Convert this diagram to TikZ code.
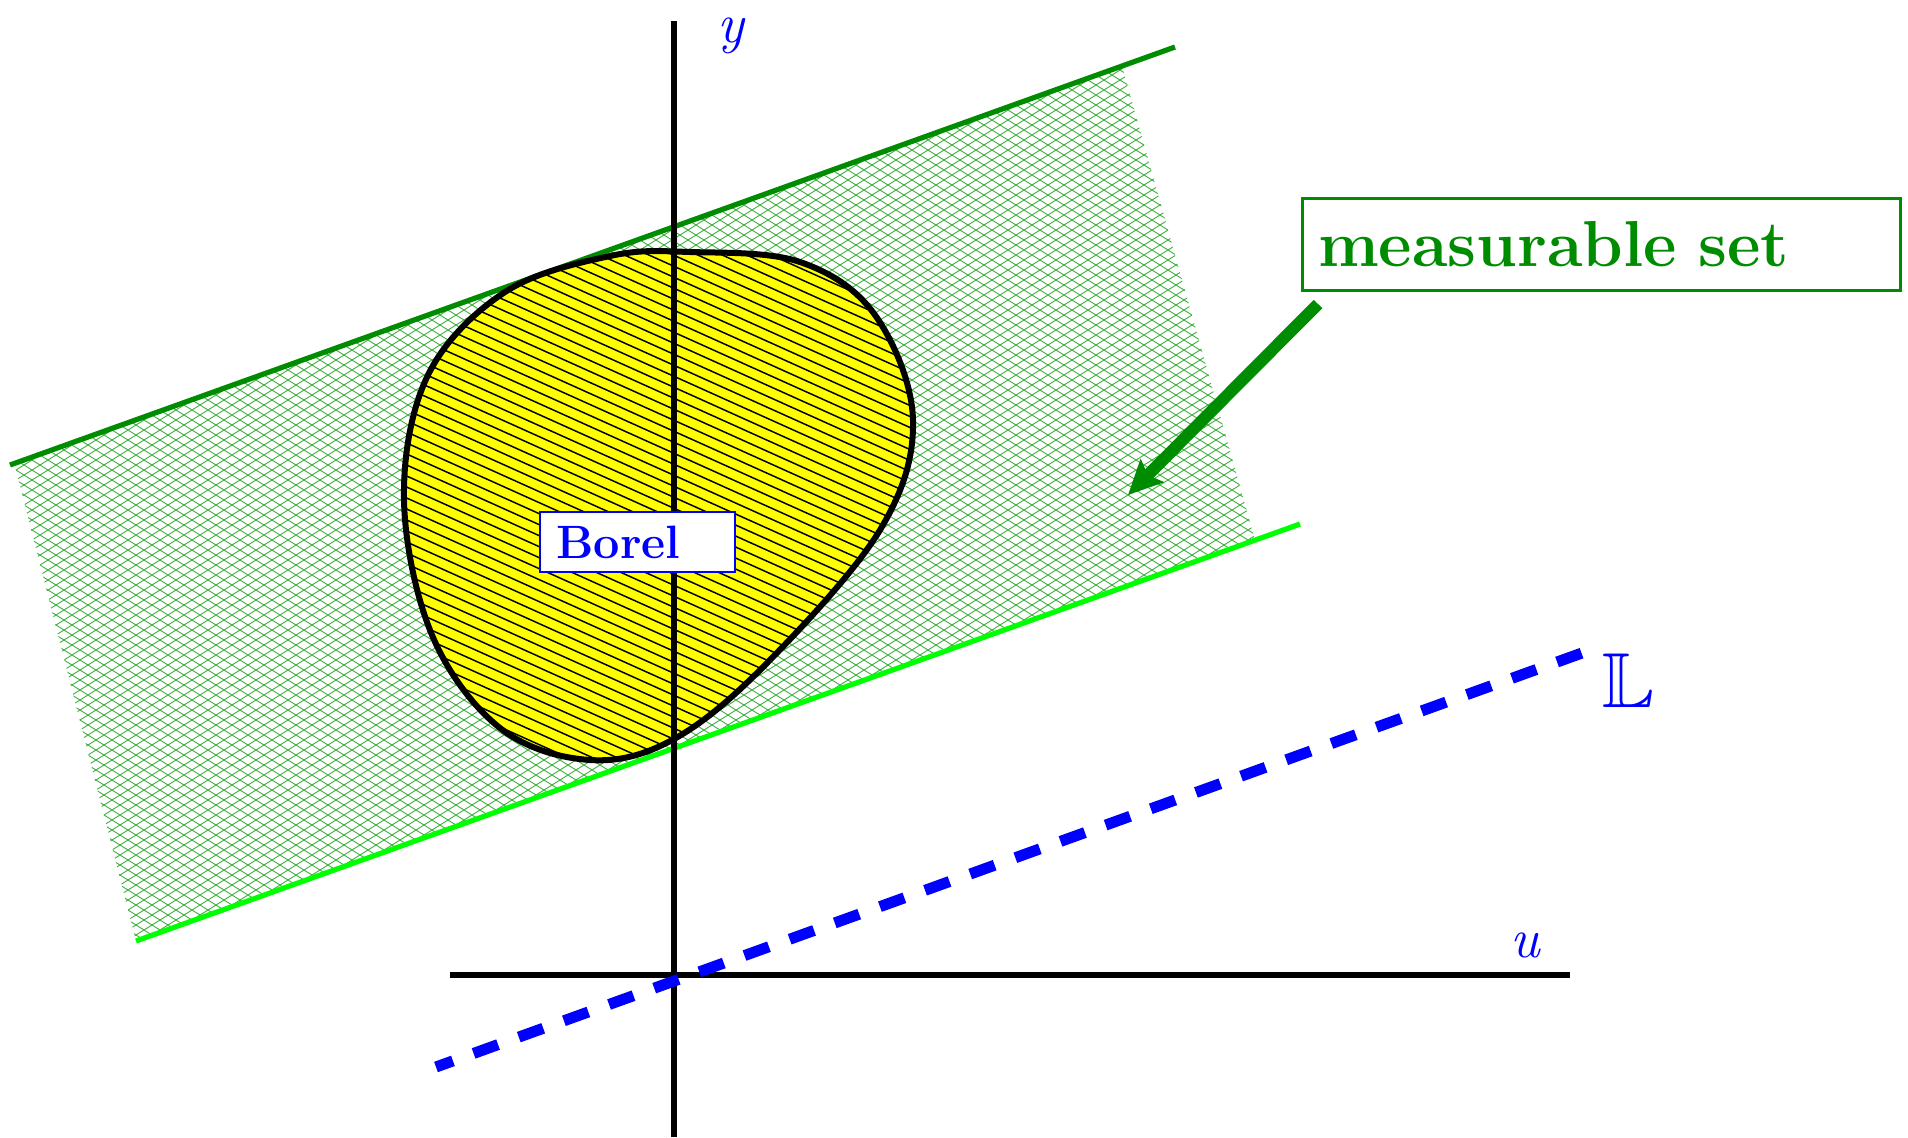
\documentclass[tikz,border=0pt]{standalone}
\usepackage{amssymb}
\usetikzlibrary{arrows.meta}
\definecolor{darkgreen}{RGB}{0,140,0}
\definecolor{lightgreen}{RGB}{0,255,0}
\definecolor{hatchgreen}{RGB}{60,175,60}
\definecolor{blobyellow}{RGB}{255,255,0}
\tikzset{
  axisline/.style={line width=3pt, black},
  hatchline/.style={line width=0.45pt, hatchgreen},
  blobline/.style={line width=0.75pt, black},
  axlabel/.style={text=blue, inner sep=0pt},
  labelbox/.style={draw, fill=white, align=left, inner ysep=0pt, font=\bfseries}
}
\begin{document}
\begin{tikzpicture}[x=0.5pt, y=-0.5pt]
\useasboundingbox (0,0) rectangle (1908,1137);
\begin{scope}
\clip (15,466) -- (1122,66) -- (1255,540) -- (136,941) -- cycle;
\foreach \c in {-800,-790,...,1000} \draw[hatchline] (0,\c) -- (1400,\c+875);
\foreach \c in {40,50,...,1840} \draw[hatchline] (0,\c) -- (1400,\c-875);
\end{scope}
\coordinate (topleft) at (10,465);
\coordinate (topright) at (1175,47);
\coordinate (botleft) at (136,941);
\coordinate (botright) at (1300,524);
\draw[line width=2.6pt, darkgreen] (topleft) -- (topright);
\draw[line width=2.6pt, lightgreen] (botleft) -- (botright);
\def\blobpath{plot[smooth cycle, tension=0.6] coordinates {(690,252) (800,262) (875,315) (913,420) (880,530) (767,663) (674,739) (590,760) (500,728) (432,635) (404,499) (428,375) (505,292) (610,256)}}
\fill[blobyellow] \blobpath;
\begin{scope}
\clip \blobpath;
\foreach \c in {-180,-169,...,600} \draw[blobline] (380,\c+171) -- (940,\c+423);
\end{scope}
\draw[line width=3pt, black] \blobpath;
\coordinate (ytop) at (674,21);
\coordinate (ybot) at (674,1137);
\coordinate (uleft) at (450,975);
\coordinate (uright) at (1570,975);
\draw[axisline] (ybot) -- (ytop);
\draw[axisline] (uleft) -- (uright);
\coordinate (lstart) at (436,1067);
\coordinate (lend) at (1582,653);
\draw[line width=5.5pt, blue, dash pattern=on 13pt off 11pt, dash phase=4pt] (lstart) -- (lend);
\node[axlabel, font=\itshape\fontsize{28}{30}\selectfont] (ylab) at (731,36) {y};
\node[axlabel, font=\itshape\fontsize{28}{30}\selectfont] (ulab) at (1525,945) {u};
\node[axlabel, font=\fontsize{39}{42}\selectfont] (llab) at (1628,681) {$\mathbb{L}$};
\node[labelbox, draw=blue, text=blue, line width=1pt, text width=80.5pt, inner xsep=8.5pt, minimum height=30pt,
  font=\bfseries\fontsize{23.4}{26}\selectfont] (borel) at (637,542) {Borel};
\node[labelbox, draw=darkgreen, text=darkgreen, line width=1.5pt, text width=283pt, inner xsep=8pt, minimum height=46pt,
  font=\bfseries\fontsize{32.5}{36}\selectfont] (mset) at (1601,244) {measurable set};
\coordinate (arrowtail) at (1318,304);
\coordinate (arrowtip) at (1128,495);
\draw[-{Stealth[length=17pt, width=16pt, inset=3pt]}, line width=6pt, darkgreen] (arrowtail) -- (arrowtip);
\end{tikzpicture}
\end{document}
